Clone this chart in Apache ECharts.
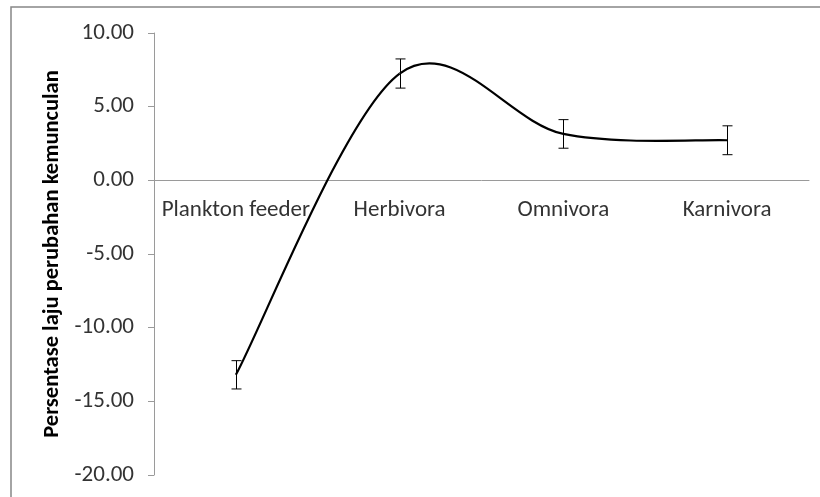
<!DOCTYPE html>
<html lang="id">
<head>
<meta charset="UTF-8">
<title>Persentase laju perubahan kemunculan</title>
<script src="https://cdn.jsdelivr.net/npm/echarts@6/dist/echarts.min.js"></script>
<style>
  html, body { margin: 0; padding: 0; background: #fff; }
  #chart { width: 820px; height: 497px; }
</style>
</head>
<body>
<div id="chart"></div>
<script>
var categories = ['Plankton feeder', 'Herbivora', 'Omnivora', 'Karnivora'];
var values = [-13.2, 7.25, 3.15, 2.72];
var errors = [0.96, 0.99, 0.97, 0.98];
var yTicks = { min: -20, max: 10, interval: 5 };

var font = "Carlito, 'Open Sans', sans-serif";
var chart = echarts.init(document.getElementById('chart'));

// excel-style smooth line: catmull-rom converted to bezier (control = P +- (Pnext - Pprev)/6)
function pt(api, i) {
    var k = Math.max(0, Math.min(values.length - 1, i));
    return api.coord([k, values[k]]);
}

function renderCurve(params, api) {
    var i = params.dataIndex;
    if (i >= values.length - 1) return null;
    var p0 = pt(api, i - 1), p1 = pt(api, i), p2 = pt(api, i + 1), p3 = pt(api, i + 2);
    return {
        type: 'bezierCurve',
        shape: {
            x1: p1[0], y1: p1[1],
            cpx1: p1[0] + (p2[0] - p0[0]) / 6, cpy1: p1[1] + (p2[1] - p0[1]) / 6,
            cpx2: p2[0] - (p3[0] - p1[0]) / 6, cpy2: p2[1] - (p3[1] - p1[1]) / 6,
            x2: p2[0], y2: p2[1]
        },
        style: { stroke: '#000', lineWidth: 2.2, fill: null }
    };
}

function renderError(params, api) {
    var i = params.dataIndex;
    var hi = api.coord([i, values[i] + errors[i]]);
    var lo = api.coord([i, values[i] - errors[i]]);
    var x = Math.round(hi[0]) + 0.5;
    var st = { stroke: '#000', lineWidth: 1 };
    return {
        type: 'group',
        children: [
            { type: 'line', shape: { x1: x, y1: hi[1], x2: x, y2: lo[1] }, style: st },
            { type: 'line', shape: { x1: x - 5, y1: hi[1], x2: x + 5, y2: hi[1] }, style: st },
            { type: 'line', shape: { x1: x - 5, y1: lo[1], x2: x + 5, y2: lo[1] }, style: st }
        ]
    };
}

// category labels sit just under the zero line, like excel's axis crossing
function renderCatLabel(params, api) {
    var i = params.dataIndex;
    var p = api.coord([i, 0]);
    return {
        type: 'text',
        x: p[0], y: p[1] + 30,
        style: {
            text: categories[i], fill: '#333', font: '23px ' + font,
            align: 'center', verticalAlign: 'middle'
        },
        silent: true
    };
}

var option = {
    backgroundColor: '#fff',
    animation: false,
    graphic: [{
        type: 'rect',
        shape: { x: 11, y: 7, width: 900, height: 600 },
        style: { fill: null, stroke: '#878787', lineWidth: 1.5 },
        silent: true
    }],
    grid: { left: 154, right: 11, top: 33, bottom: 22 },
    xAxis: {
        type: 'category',
        data: categories,
        boundaryGap: true,
        axisLine: { onZero: true, lineStyle: { color: '#9a9a9a', width: 1 } },
        axisTick: { show: false },
        axisLabel: { show: false },
        splitLine: { show: false }
    },
    yAxis: {
        type: 'value',
        min: yTicks.min,
        max: yTicks.max,
        interval: yTicks.interval,
        name: 'Persentase laju perubahan kemunculan',
        nameLocation: 'middle',
        nameGap: 88,
        nameTextStyle: { color: '#000', fontFamily: font, fontSize: 22.5, fontWeight: 'bold' },
        axisLine: { show: true, lineStyle: { color: '#9a9a9a', width: 1 } },
        axisTick: { show: true, length: 6, lineStyle: { color: '#9a9a9a' } },
        axisLabel: {
            color: '#333', fontFamily: font, fontSize: 23, margin: 20,
            formatter: function (v) { return v.toFixed(2); }
        },
        splitLine: { show: false }
    },
    series: [
        {
            type: 'custom',
            renderItem: renderCurve,
            data: values.map(function (v, i) { return [i, v]; }),
            encode: { x: 0, y: 1 },
            z: 3
        },
        {
            type: 'custom',
            renderItem: renderError,
            data: values.map(function (v, i) { return [i, v]; }),
            encode: { x: 0, y: 1 },
            z: 4
        },
        {
            type: 'custom',
            renderItem: renderCatLabel,
            data: categories.map(function (c, i) { return [i, 0]; }),
            encode: { x: 0, y: 1 },
            z: 2
        }
    ]
};

chart.setOption(option);
</script>
</body>
</html>
